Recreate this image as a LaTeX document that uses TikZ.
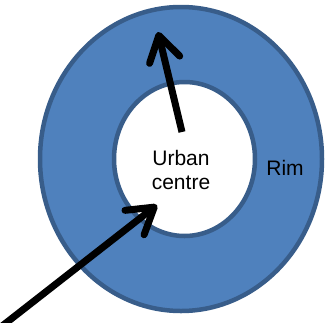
\documentclass[tikz,border=0pt]{standalone}
\usepackage{fontspec}
\setmainfont{Liberation Sans}
\usetikzlibrary{shapes.geometric, arrows.meta, positioning}
\definecolor{rimblue}{RGB}{79, 129, 189}
\definecolor{rimedge}{RGB}{56, 93, 138}

\begin{document}
\begin{tikzpicture}[
  x=1pt, y=-1pt,
  zone/.style={ellipse, draw=rimedge, line width=4.5pt, inner sep=0pt},
  lbl/.style={align=center, font=\fontsize{21}{24}\selectfont, inner sep=0pt},
  arr/.style={line width=7pt, -{Straight Barb[length=25pt, width=31pt, round]}}
]
  \useasboundingbox (0,0) rectangle (329,322);
  \clip (0,0) rectangle (329,322);

  \node[zone, fill=rimblue, minimum width=282pt, minimum height=304pt] (rim) at (181,159) {};
  \node[zone, fill=white, minimum width=141pt, minimum height=154pt] (centre) at (184.5,159) {};

  \node[lbl] (centrelbl) at (181,170) {Urban\\centre};
  \node[lbl] (rimlbl) at (285,168) {Rim};

  \coordinate (outtail) at (182,132);
  \coordinate (outtip) at (158,32);
  \coordinate (intail) at (-3,330);
  \coordinate (intip) at (157,205);

  \draw[arr] (outtail) -- (outtip);
  \draw[arr] (intail) -- (intip);

\end{tikzpicture}
\end{document}
